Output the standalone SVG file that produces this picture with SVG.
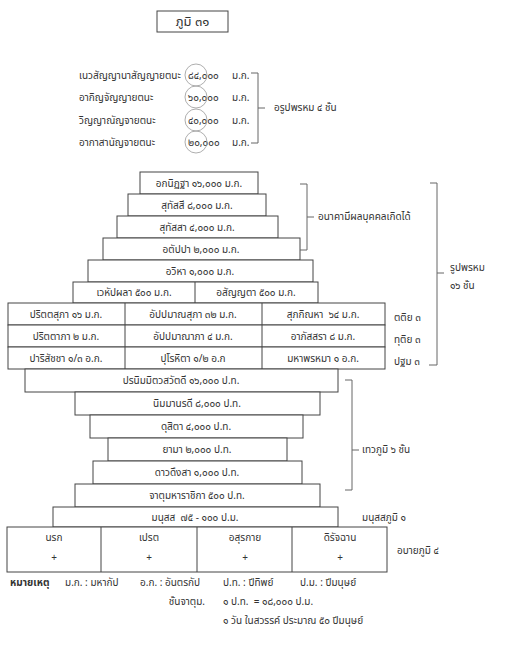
<svg xmlns="http://www.w3.org/2000/svg" width="523" height="657" viewBox="0 0 523 657">
<style>
text{font-family:"Noto Sans Thai","Noto Sans","DejaVu Sans",sans-serif;font-size:10px;fill:#333}
.c{text-anchor:middle}
.b{fill:#fff;stroke:#444;stroke-width:1}
.l{stroke:#666;stroke-width:1;fill:none}
.ci{fill:none;stroke:#999;stroke-width:0.8}
.t{font-size:13px}
.bold{font-weight:bold}
</style>
<rect width="523" height="657" fill="#fff"/>
<g id="title"><rect class="b" x="157" y="11" width="71" height="21"/><text class="c t" x="192.5" y="26">ภูมิ ๓๑</text></g>

<g id="arupa">
<text x="79" y="79">เนวสัญญานาสัญญายตนะ</text><text x="188" y="79">๘๔,๐๐๐</text><text x="232" y="79">ม.ก.</text>
<text x="79" y="101">อากิญจัญญายตนะ</text><text x="188" y="101">๖๐,๐๐๐</text><text x="232" y="101">ม.ก.</text>
<text x="79" y="124">วิญญาณัญจายตนะ</text><text x="188" y="124">๔๐,๐๐๐</text><text x="232" y="124">ม.ก.</text>
<text x="79" y="146">อากาสานัญจายตนะ</text><text x="188" y="146">๒๐,๐๐๐</text><text x="232" y="146">ม.ก.</text>
<circle class="ci" cx="196" cy="75" r="11"/><circle class="ci" cx="196" cy="97" r="11"/><circle class="ci" cx="196" cy="120" r="11"/><circle class="ci" cx="196" cy="142" r="11"/>
</g>

<g id="r1"><rect class="b" x="140" y="172" width="118" height="22"/><text class="c" x="199" y="187">อกนิฏฐา ๑๖,๐๐๐ ม.ก.</text></g>
<g id="r2"><rect class="b" x="128" y="194" width="138" height="22"/><text class="c" x="197" y="209">สุทัสสี ๘,๐๐๐ ม.ก.</text></g>
<g id="r3"><rect class="b" x="117" y="216" width="161" height="22"/><text class="c" x="197" y="231">สุทัสสา ๔,๐๐๐ ม.ก.</text></g>
<g id="r4"><rect class="b" x="103" y="238" width="197" height="22"/><text class="c" x="201" y="253">อตัปปา ๒,๐๐๐ ม.ก.</text></g>
<g id="r5"><rect class="b" x="88" y="260" width="225" height="22"/><text class="c" x="200" y="275">อวิหา ๑,๐๐๐ ม.ก.</text></g>
<g id="r6"><rect class="b" x="73" y="282" width="245" height="21"/><line class="b" x1="195" y1="282" x2="195" y2="303"/><text class="c" x="134" y="296">เวหัปผลา ๕๐๐ ม.ก.</text><text class="c" x="256" y="296">อสัญญตา ๕๐๐ ม.ก.</text></g>

<g id="w1"><rect class="b" x="8" y="303" width="377" height="22"/><line class="b" x1="125" y1="303" x2="125" y2="325"/><line class="b" x1="262" y1="303" x2="262" y2="325"/>
<text class="c" x="66" y="318">ปริตตสุภา ๑๖ ม.ก.</text><text class="c" x="193" y="318">อัปปมาณสุภา ๓๒ ม.ก.</text><text class="c" x="323" y="318">สุภกิณหา&#160; ๖๔ ม.ก.</text></g>
<g id="w2"><rect class="b" x="8" y="325" width="377" height="22"/><line class="b" x1="125" y1="325" x2="125" y2="347"/><line class="b" x1="262" y1="325" x2="262" y2="347"/>
<text class="c" x="66" y="340">ปริตตาภา ๒ ม.ก.</text><text class="c" x="193" y="340">อัปปมาณาภา ๔ ม.ก.</text><text class="c" x="323" y="340">อาภัสสรา ๘ ม.ก.</text></g>
<g id="w3"><rect class="b" x="8" y="347" width="377" height="22"/><line class="b" x1="125" y1="347" x2="125" y2="369"/><line class="b" x1="262" y1="347" x2="262" y2="369"/>
<text class="c" x="66" y="362">ปาริสัชชา ๑/๓ อ.ก.</text><text class="c" x="193" y="362">ปุโรหิตา ๑/๒ อ.ก</text><text class="c" x="323" y="362">มหาพรหมา ๑ อ.ก.</text></g>

<g id="d1"><rect class="b" x="25" y="369" width="313" height="23"/><text class="c" x="181" y="384">ปรนิมมิตวสวัตดี ๑๖,๐๐๐ ป.ท.</text></g>
<g id="d2"><rect class="b" x="75" y="392" width="245" height="23"/><text class="c" x="197" y="407">นิมมานรดี ๘,๐๐๐ ป.ท.</text></g>
<g id="d3"><rect class="b" x="90" y="415" width="213" height="23"/><text class="c" x="196" y="430">ดุสิตา ๔,๐๐๐ ป.ท.</text></g>
<g id="d4"><rect class="b" x="108" y="438" width="179" height="23"/><text class="c" x="197" y="453">ยามา ๒,๐๐๐ ป.ท.</text></g>
<g id="d5"><rect class="b" x="93" y="461" width="209" height="23"/><text class="c" x="197" y="476">ดาวดึงสา ๑,๐๐๐ ป.ท.</text></g>
<g id="d6"><rect class="b" x="75" y="484" width="245" height="23"/><text class="c" x="197" y="499">จาตุมหาราชิกา ๕๐๐ ป.ท.</text></g>
<g id="human"><rect class="b" x="53" y="507" width="285" height="20"/><text class="c" x="195" y="521">มนุสส&#160; ๗๕ - ๑๐๐ ป.ม.</text></g>
<g id="apaya"><rect class="b" x="7" y="527" width="380" height="45"/><line class="b" x1="101" y1="527" x2="101" y2="572"/><line class="b" x1="197" y1="527" x2="197" y2="572"/><line class="b" x1="292" y1="527" x2="292" y2="572"/>
<text class="c" x="54" y="541">นรก</text><text class="c" x="149" y="541">เปรต</text><text class="c" x="245" y="541">อสุรกาย</text><text class="c" x="340" y="541">ดิรัจฉาน</text>
<text class="c" x="54" y="561">+</text><text class="c" x="149" y="561">+</text><text class="c" x="245" y="561">+</text><text class="c" x="340" y="561">+</text></g>

<g id="connectors">
<path class="l" d="M251 73H258V143H251M258 108H265"/>
<path class="l" d="M300 184H307V250H300M307 217H314"/>
<path class="l" d="M430 183H437V365H429M437 273H444"/>
<path class="l" d="M345 380H352V490H345M352 450H359"/>
</g>

<g id="labels">
<text x="274" y="111">อรูปพรหม ๔ ชั้น</text>
<text x="318" y="220">อนาคามีผลบุคคลเกิดได้</text>
<text x="450" y="271">รูปพรหม</text>
<text x="450" y="289">๑๖ ชั้น</text>
<text x="394" y="321">ตติย ๓</text>
<text x="394" y="343">ทุติย ๓</text>
<text x="394" y="365">ปฐม ๓</text>
<text x="362" y="453">เทวภูมิ ๖ ชั้น</text>
<text x="362" y="521">มนุสสภูมิ ๑</text>
<text x="397" y="554">อบายภูมิ ๔</text>
</g>

<g id="legend">
<text class="bold" x="10" y="586">หมายเหตุ</text>
<text x="65" y="586">ม.ก. : มหากัป</text>
<text x="140" y="586">อ.ก. : อันตรกัป</text>
<text x="223" y="586">ป.ท. : ปีทิพย์</text>
<text x="300" y="586">ป.ม. : ปีมนุษย์</text>
<text x="205" y="605" text-anchor="end">ชั้นจาตุม.</text>
<text x="223" y="605">๑ ป.ท.&#160; = ๑๘,๐๐๐ ป.ม.</text>
<text x="223" y="624">๑ วัน ในสวรรค์ ประมาณ ๕๐ ปีมนุษย์</text>
</g>
</svg>
